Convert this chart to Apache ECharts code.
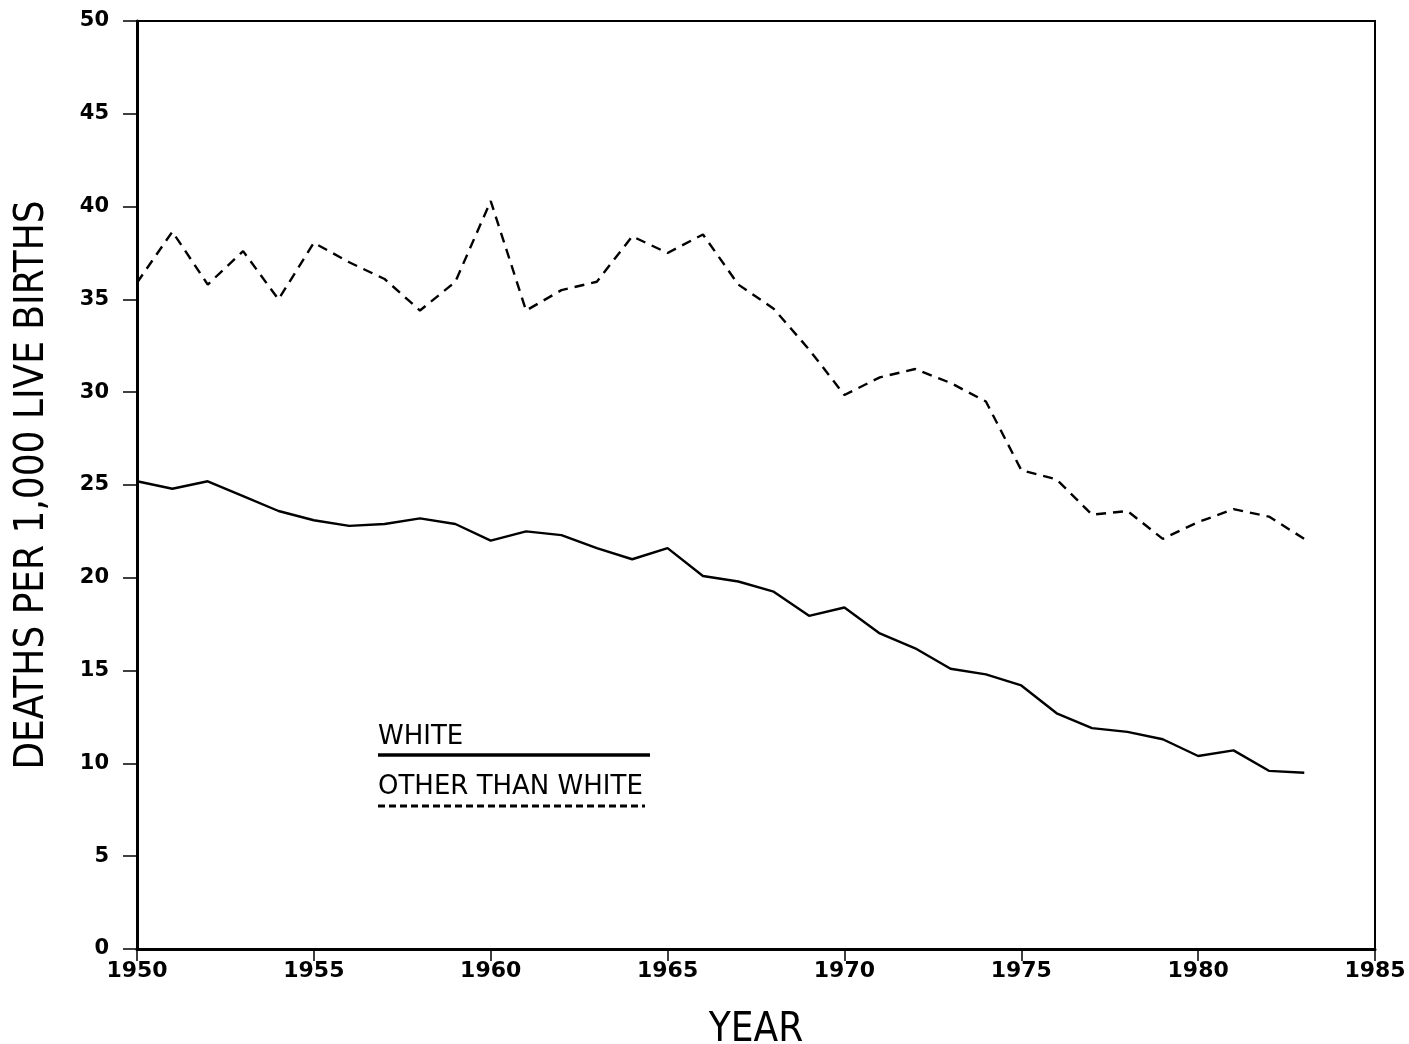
<!DOCTYPE html>
<html>
<head>
<meta charset="utf-8">
<script src="https://cdn.jsdelivr.net/npm/echarts@6/dist/echarts.min.js"></script>
<style>html,body{margin:0;padding:0;background:#fff}#c{width:1409px;height:1044px}</style>
</head>
<body>
<div id="c"></div>
<script>
const years = [1950,1951,1952,1953,1954,1955,1956,1957,1958,1959,1960,1961,1962,1963,1964,1965,1966,1967,1968,1969,1970,1971,1972,1973,1974,1975,1976,1977,1978,1979,1980,1981,1982,1983];
const white = [25.2,24.8,25.2,24.4,23.6,23.1,22.8,22.9,23.2,22.9,22.0,22.5,22.3,21.6,21.0,21.6,20.1,19.8,19.25,17.95,18.4,17.0,16.2,15.1,14.8,14.2,12.7,11.9,11.7,11.3,10.4,10.7,9.6,9.5];
const other = [35.9,38.65,35.8,37.6,35.0,38.05,37.0,36.1,34.4,35.95,40.3,34.4,35.5,35.95,38.4,37.5,38.5,35.8,34.5,32.3,29.85,30.8,31.25,30.5,29.5,25.8,25.3,23.4,23.6,22.1,23.0,23.7,23.3,22.1];
const seriesNames = ['WHITE','OTHER THAN WHITE'];
const yTitle = 'DEATHS PER 1,000 LIVE BIRTHS';
const xTitle = 'YEAR';

const chart = echarts.init(document.getElementById('c'), null, {renderer:'canvas'});
const condensed = '"Liberation Sans Narrow","DejaVu Sans Condensed",sans-serif';
chart.setOption({
  backgroundColor:'#fff',
  animation:false,
  grid:{left:137,right:34,top:21,bottom:95,containLabel:false,outerBoundsMode:'none',show:true,borderColor:'#000',borderWidth:2,backgroundColor:'transparent'},
  xAxis:{type:'value',min:1950,max:1985,interval:5,
    name:xTitle,nameLocation:'middle',nameGap:62,
    nameTextStyle:{fontFamily:condensed,fontSize:40,color:'#000'},
    axisLine:{show:true,lineStyle:{color:'#000',width:3}},
    axisTick:{show:true,length:12,lineStyle:{color:'#000',width:1.5}},
    axisLabel:{color:'#000',fontFamily:'"DejaVu Sans",sans-serif',fontWeight:'bold',fontSize:22,margin:11,formatter:v=>String(v)},
    splitLine:{show:false}},
  yAxis:{type:'value',min:0,max:50,interval:5,
    name:yTitle,nameLocation:'middle',nameGap:84,nameRotate:90,
    nameTextStyle:{fontFamily:condensed,fontSize:40,color:'#000'},
    axisLine:{show:true,lineStyle:{color:'#000',width:3}},
    axisTick:{show:true,length:14,lineStyle:{color:'#000',width:1.5}},
    axisLabel:{color:'#000',fontFamily:'"DejaVu Sans",sans-serif',fontWeight:'bold',fontSize:21,margin:28},
    splitLine:{show:false}},
  series:[
    {name:seriesNames[0],type:'line',data:years.map((y,i)=>[y,white[i]]),symbol:'none',
     lineStyle:{color:'#000',width:2.4,type:'solid'}},
    {name:seriesNames[1],type:'line',data:years.map((y,i)=>[y,other[i]]),symbol:'none',
     lineStyle:{color:'#000',width:2.4,type:[10,7]}}
  ],
  graphic:[
    {type:'text',left:378,top:724,style:{text:seriesNames[0],fontFamily:'"DejaVu Sans",sans-serif',fontSize:26,fill:'#000'}},
    {type:'line',shape:{x1:378,y1:755,x2:650,y2:755},style:{stroke:'#000',lineWidth:3.5}},
    {type:'text',left:378,top:774,style:{text:seriesNames[1],fontFamily:'"DejaVu Sans",sans-serif',fontSize:26,fill:'#000'}},
    {type:'line',shape:{x1:378,y1:806,x2:645,y2:806},style:{stroke:'#000',lineWidth:3,lineDash:[7,4]}}
  ]
});
</script>
</body>
</html>
